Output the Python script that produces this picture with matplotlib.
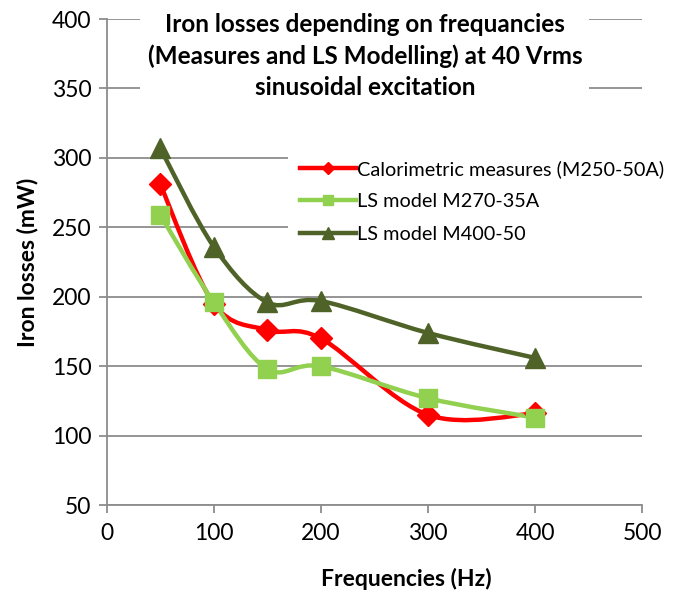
import matplotlib
matplotlib.use("Agg")
import matplotlib.pyplot as plt
from matplotlib.path import Path
from matplotlib.patches import PathPatch
from matplotlib.lines import Line2D

plt.rcParams['font.family'] = ['Lato', 'DejaVu Sans']

# Données
frequences = [50, 100, 150, 200, 300, 400]
calorimetrique = [281, 195, 176, 170, 115, 116]
ls_m270 = [259, 196, 148, 150, 127, 113]
ls_m400 = [307, 236, 196, 197, 174, 156]

noms = ["Calorimetric measures (M250-50A)", "LS model M270-35A", "LS model M400-50"]
couleurs = ["#FF0000", "#92D050", "#4F6228"]
marqueurs = ["D", "s", "^"]
tailles = [11, 13, 14]

titre = ("Iron losses depending on frequancies\n"
         "(Measures and LS Modelling) at 40 Vrms\n"
         "sinusoidal excitation")


def chemin_lisse(xs, ys):
    """Courbe de Bézier passant par les points (lissage façon Excel)."""
    pts = list(zip(xs, ys))
    verts = [pts[0]]
    codes = [Path.MOVETO]
    n = len(pts)
    for i in range(n - 1):
        p0 = pts[i - 1] if i > 0 else pts[i]
        p1 = pts[i]
        p2 = pts[i + 1]
        p3 = pts[i + 2] if i + 2 < n else pts[i + 1]
        c1 = (p1[0] + (p2[0] - p0[0]) / 6, p1[1] + (p2[1] - p0[1]) / 6)
        c2 = (p2[0] - (p3[0] - p1[0]) / 6, p2[1] - (p3[1] - p1[1]) / 6)
        verts += [c1, c2, p2]
        codes += [Path.CURVE4] * 3
    return Path(verts, codes)


fig = plt.figure(figsize=(6.84, 5.95), dpi=100)
ax = fig.add_axes([0.156, 0.151, 0.783, 0.817])

series = [calorimetrique, ls_m270, ls_m400]
poignees = []
for valeurs, nom, coul, mk, ms in zip(series, noms, couleurs, marqueurs, tailles):
    ax.add_patch(PathPatch(chemin_lisse(frequences, valeurs), facecolor='none',
                           edgecolor=coul, lw=3.2, zorder=3, capstyle='round'))
    ax.plot(frequences, valeurs, linestyle='none', marker=mk, ms=ms,
            color=coul, mec=coul, zorder=4)
    poignees.append(Line2D([], [], color=coul, lw=3.2, marker=mk,
                           ms=ms * 0.6, mec=coul))

ax.set_xlim(0, 500)
ax.set_ylim(50, 400)
ax.set_xticks(range(0, 501, 100))
ax.set_yticks(range(50, 401, 50))
ax.yaxis.grid(True, color='#8C8C8C', lw=1.3)
ax.set_axisbelow(True)
for cote in ['top', 'right']:
    ax.spines[cote].set_visible(False)
for cote in ['left', 'bottom']:
    ax.spines[cote].set_color('#8C8C8C')
    ax.spines[cote].set_linewidth(1.3)
ax.tick_params(axis='both', colors='#8C8C8C', labelcolor='black',
               labelsize=16.5, length=6, width=1.3, direction='out')
ax.tick_params(axis='x', pad=7)
ax.tick_params(axis='y', pad=5)

ax.set_xlabel("Frequencies (Hz)", fontsize=16.5, fontweight='bold', labelpad=10)
ax.xaxis.set_label_coords(0.56, -0.13)
ax.set_ylabel("Iron losses (mW)", fontsize=16.5, fontweight='bold', labelpad=10)

ax.text(0.482, 1.012, titre, transform=ax.transAxes, ha='center', va='top',
        fontsize=17.5, fontweight='bold', linespacing=1.42, zorder=5,
        bbox=dict(facecolor='white', edgecolor='none', pad=5))

leg = ax.legend(poignees, noms, loc='upper left', bbox_to_anchor=(0.339, 0.735),
                fontsize=14.3, frameon=True, framealpha=1, edgecolor='none',
                handlelength=2.8, handletextpad=0.05, labelspacing=0.78,
                borderpad=0.6, borderaxespad=0)
leg.set_zorder(5)

fig.savefig("out.png", dpi=100)
